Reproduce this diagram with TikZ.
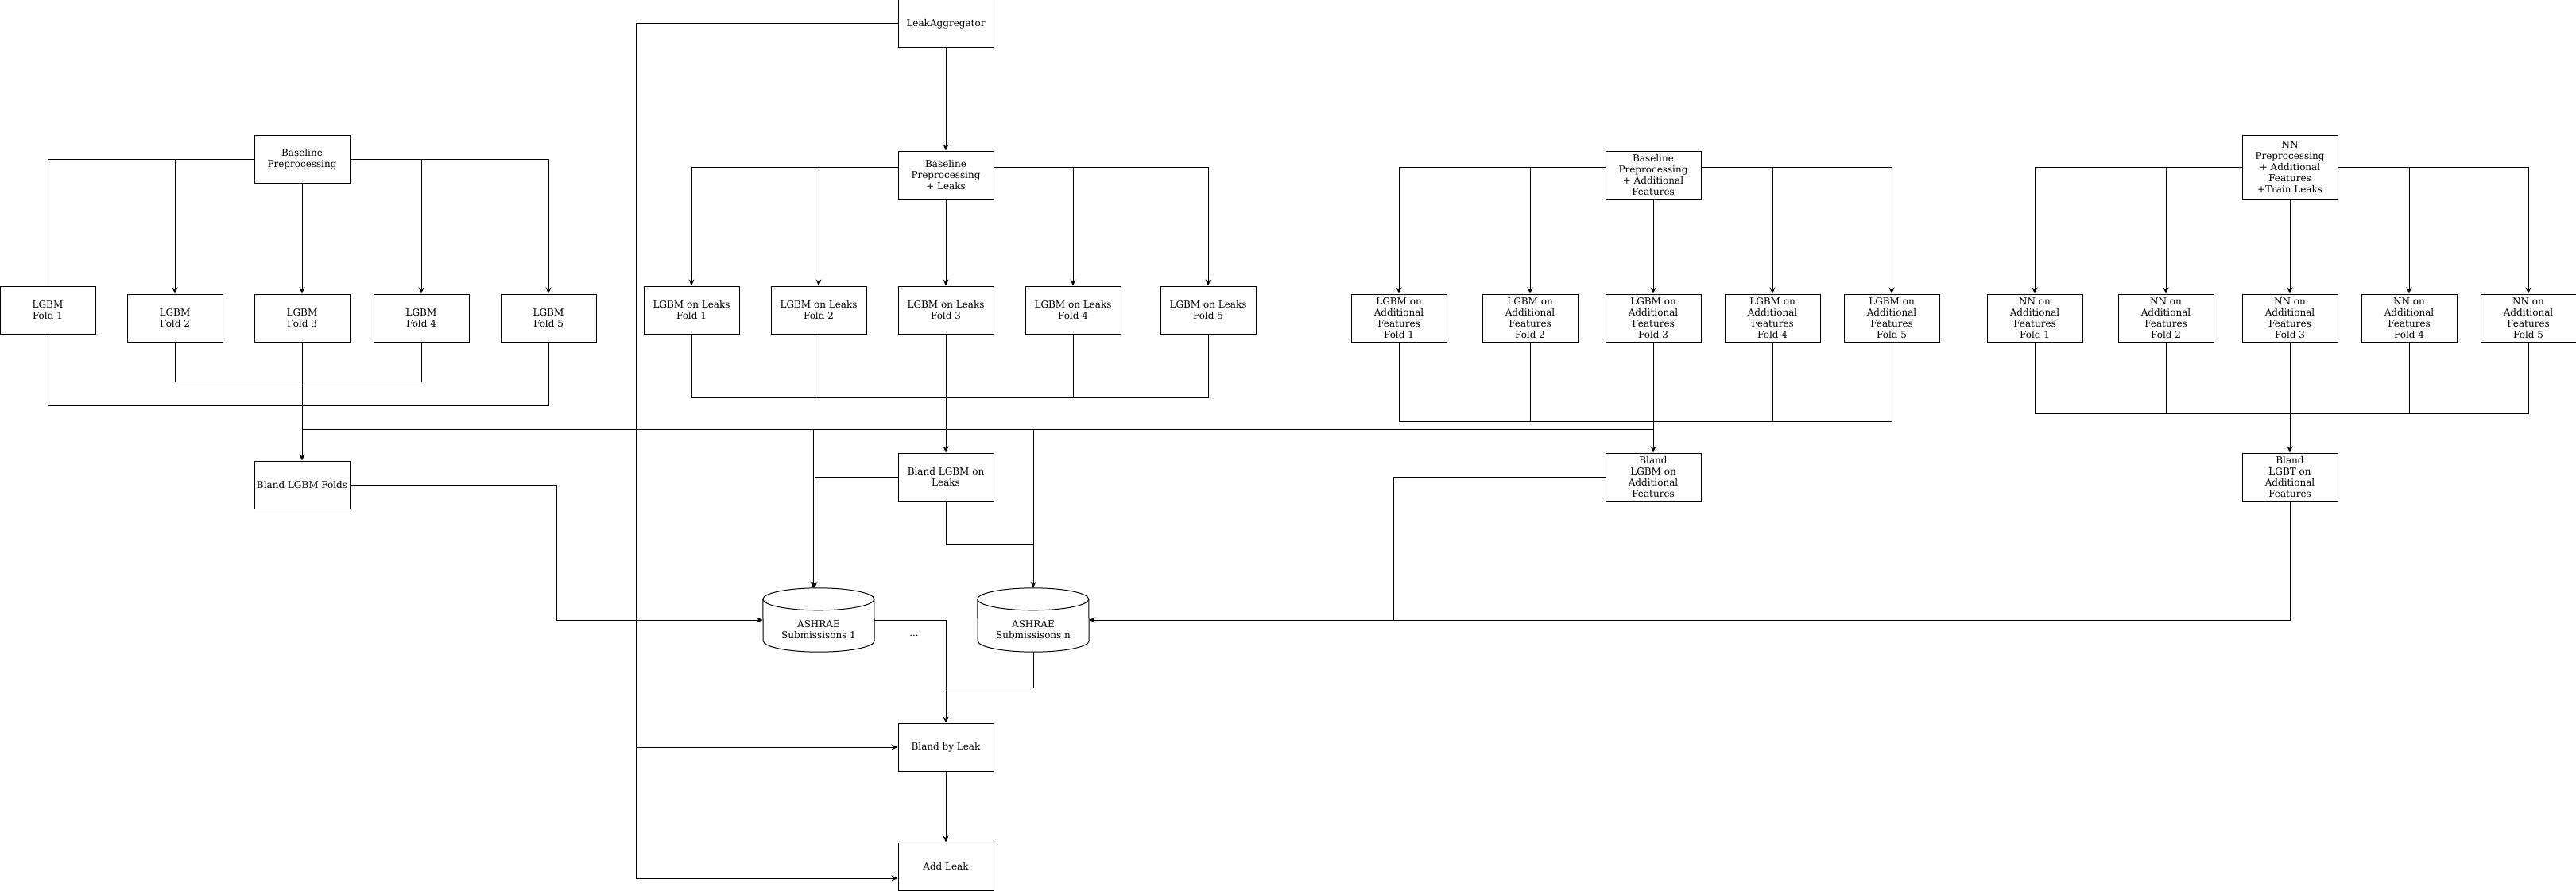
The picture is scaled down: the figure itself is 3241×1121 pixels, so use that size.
\documentclass[tikz,border=0pt]{standalone}
\usepackage{fontspec}
\setmainfont{DejaVu Serif}
\usetikzlibrary{arrows.meta}
\tikzset{
  ln/.style={line width=1pt, draw=black},
  arr/.style={ln, -{Stealth[length=8pt,width=7pt,inset=2.5pt]}},
  box/.style={draw=black, line width=1pt, fill=white, minimum width=120pt, minimum height=60pt,
    inner sep=0pt, align=center, font=\fontsize{12}{14}\selectfont},
  tall/.style={box, minimum height=80pt},
  cylnode/.style={minimum width=140pt, minimum height=80pt, inner sep=0pt, align=center,
    font=\fontsize{12}{14}\selectfont},
  lbl/.style={inner sep=0pt, font=\fontsize{12}{14}\selectfont}
}
\newcommand\drawcylinder[1]{%
  \draw[ln] ([yshift=-14pt]#1.north west) arc[start angle=180,end angle=0,x radius=70pt,y radius=14pt]
     -- ([yshift=14pt]#1.south east) arc[start angle=0,end angle=-180,x radius=70pt,y radius=14pt] -- cycle;
  \draw[ln] ([yshift=-14pt]#1.north west) arc[start angle=180,end angle=360,x radius=70pt,y radius=14pt];
}
\begin{document}
\begin{tikzpicture}[x=1pt,y=1pt]
\useasboundingbox (0,0) rectangle (3241,-1121);
\fill[white] (0,0) rectangle (3241,-1121);

% ---------------- left group
\node[box] (bp) at (380,-200) {Baseline\\Preprocessing};
\node[box] (lf1) at (60,-390) {LGBM\\Fold 1};
\node[box] (lf2) at (220,-400) {LGBM\\Fold 2};
\node[box] (lf3) at (380,-400) {LGBM\\Fold 3};
\node[box] (lf4) at (530,-400) {LGBM\\Fold 4};
\node[box] (lf5) at (690,-400) {LGBM\\Fold 5};
\node[box] (blf) at (380,-610) {Bland LGBM Folds};

% ---------------- leak group
\node[box] (la) at (1190,-30) {LeakAggregator};
\node[box] (bpl) at (1190,-220) {Baseline\\Preprocessing\\+ Leaks};
\node[box] (lk1) at (870,-390) {LGBM on Leaks\\Fold 1};
\node[box] (lk2) at (1030,-390) {LGBM on Leaks\\Fold 2};
\node[box] (lk3) at (1190,-390) {LGBM on Leaks\\Fold 3};
\node[box] (lk4) at (1350,-390) {LGBM on Leaks\\Fold 4};
\node[box] (lk5) at (1520,-390) {LGBM on Leaks\\Fold 5};
\node[box] (blk) at (1190,-600) {Bland LGBM on\\Leaks};
\node[box] (bbl) at (1190,-940) {Bland by Leak};
\node[box] (al) at (1190,-1090) {Add Leak};

% ---------------- cylinders
\node[cylnode] (ash1) at (1030,-780) {};
\node[cylnode] (ashn) at (1300,-780) {};
\drawcylinder{ash1}
\drawcylinder{ashn}
\node[lbl, align=center] (ash1t) at (1030,-792) {ASHRAE\\Submissisons 1};
\node[lbl, align=center] (ashnt) at (1300,-792) {ASHRAE\\Submissisons n};
\node[lbl] (dots) at (1150,-800) {...};

% ---------------- additional features group
\node[box] (bpa) at (2080,-220) {Baseline\\Preprocessing\\+ Additional\\Features};
\node[box] (af1) at (1760,-400) {LGBM on\\Additional\\Features\\Fold 1};
\node[box] (af2) at (1925,-400) {LGBM on\\Additional\\Features\\Fold 2};
\node[box] (af3) at (2080,-400) {LGBM on\\Additional\\Features\\Fold 3};
\node[box] (af4) at (2230,-400) {LGBM on\\Additional\\Features\\Fold 4};
\node[box] (af5) at (2380,-400) {LGBM on\\Additional\\Features\\Fold 5};
\node[box] (baf) at (2080,-600) {Bland\\LGBM on\\Additional\\Features};

% ---------------- NN group
\node[tall] (nnp) at (2881,-210) {NN\\Preprocessing\\+ Additional\\Features\\+Train Leaks};
\node[box] (nn1) at (2560,-400) {NN on\\Additional\\Features\\Fold 1};
\node[box] (nn2) at (2725,-400) {NN on\\Additional\\Features\\Fold 2};
\node[box] (nn3) at (2881,-400) {NN on\\Additional\\Features\\Fold 3};
\node[box] (nn4) at (3031,-400) {NN on\\Additional\\Features\\Fold 4};
\node[box] (nn5) at (3181,-400) {NN on\\Additional\\Features\\Fold 5};
\node[box] (bnn) at (2881,-600) {Bland\\LGBT on\\Additional\\Features};

% helper coordinates
\coordinate (bus) at (0,-540);
\coordinate (vl) at (800,0);
\coordinate (a1x) at (1023,0);
\coordinate (a1y) at (1025,0);
\coordinate (mixn) at (0,-685);
\coordinate (mixb) at (0,-865);
\coordinate (fr) at (700,0);
\coordinate (afx) at (1753,0);
\coordinate (alin) at ([yshift=-15pt]al.west);

% ---------------- left group edges
\draw[ln] (bp.west) -| (lf1.north);
\draw[arr] (bp.west) -| (lf2.north);
\draw[arr] (bp.south) -- (lf3.north);
\draw[arr] (bp.east) -| (lf4.north);
\draw[arr] (bp.east) -| (lf5.north);
\draw[ln] (lf2.south) -- ++(0,-50) -| (lf4.south);
\draw[ln] (lf1.south) -- ++(0,-90) -| (lf5.south);
\draw[arr] (lf3.south) -- (blf.north);
\draw[arr] (blf.east) -- (fr |- blf.east) |- (ash1.west);

% bus line
\draw[ln] (lf3.south |- bus) -- (baf.north |- bus);
\draw[arr] (a1x |- bus) -- (a1x |- ash1.north);
\draw[arr] (ashn.north |- bus) -- (ashn.north);

% ---------------- leak group edges
\draw[arr] (la.west) -- (vl |- la.west) |- (alin);
\draw[arr] (vl |- bbl.west) -- (bbl.west);
\draw[arr] (la.south) -- (bpl.north);
\draw[arr] ([yshift=10pt]bpl.west) -| (lk1.north);
\draw[arr] ([yshift=10pt]bpl.west) -| (lk2.north);
\draw[arr] (bpl.south) -- (lk3.north);
\draw[arr] ([yshift=10pt]bpl.east) -| (lk4.north);
\draw[arr] ([yshift=10pt]bpl.east) -| (lk5.north);
\draw[ln] (lk1.south) -- ++(0,-80) -| (lk5.south);
\draw[ln] (lk2.south) -- ++(0,-80);
\draw[ln] (lk4.south) -- ++(0,-80);
\draw[arr] (lk3.south) -- (blk.north);
\draw[arr] (blk.west) -- (a1y |- blk.west) -- (a1y |- ash1.north);
\draw[ln] (blk.south) |- (ashn.north |- mixn);
\draw[arr] (ash1.east) -| (bbl.north);
\draw[ln] (ashn.south) |- (bbl.north |- mixb);
\draw[arr] (bbl.south) -- (al.north);

% ---------------- additional features edges
\draw[arr] ([yshift=10pt]bpa.west) -| (af1.north);
\draw[arr] ([yshift=10pt]bpa.west) -| (af2.north);
\draw[arr] (bpa.south) -- (af3.north);
\draw[arr] ([yshift=10pt]bpa.east) -| (af4.north);
\draw[arr] ([yshift=10pt]bpa.east) -| (af5.north);
\draw[ln] (af1.south) -- ++(0,-100) -| (af5.south);
\draw[ln] (af2.south) -- ++(0,-100);
\draw[ln] (af4.south) -- ++(0,-100);
\draw[arr] (af3.south) -- (baf.north);
\draw[ln] (baf.west) -- (afx |- baf.west) -- (afx |- ashn.east);

% ---------------- NN edges
\draw[arr] (nnp.west) -| (nn1.north);
\draw[arr] (nnp.west) -| (nn2.north);
\draw[arr] (nnp.south) -- (nn3.north);
\draw[arr] (nnp.east) -| (nn4.north);
\draw[arr] (nnp.east) -| (nn5.north);
\draw[ln] (nn1.south) -- ++(0,-90) -| (nn5.south);
\draw[ln] (nn2.south) -- ++(0,-90);
\draw[ln] (nn4.south) -- ++(0,-90);
\draw[arr] (nn3.south) -- (bnn.north);
\draw[arr] (bnn.south) |- (ashn.east);
\end{tikzpicture}
\end{document}
